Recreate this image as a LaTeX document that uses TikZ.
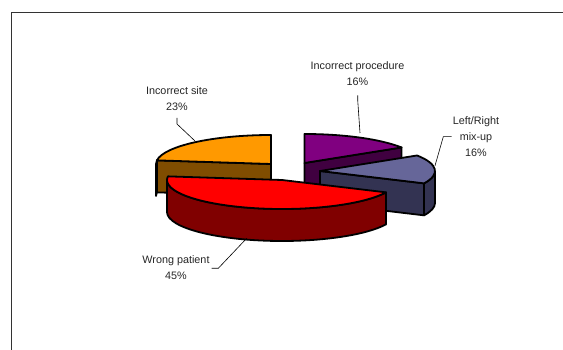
\documentclass[tikz,border=0pt]{standalone}
\usepackage{fontspec}
\setmainfont{Liberation Sans}
\usetikzlibrary{calc}
\begin{document}
\begin{tikzpicture}[x=1pt,y=-1pt,
  slice/.style={draw=black,line width=1.8pt,line join=round},
  ell/.style={x radius=115,y radius=29},
  lbl/.style={align=center,font=\fontsize{10.8}{16}\selectfont,text=black!85,inner sep=0pt},
  leader/.style={draw=black,line width=0.6pt}]
\useasboundingbox (0,0) rectangle (563,350);
\fill[white] (0,0) rectangle (563,350);
\draw[line width=1pt,black!80] (11,350) -- (11,13) -- (563,13);
% Purple: Incorrect procedure (back)
\coordinate (P) at (304.5,163);
\filldraw[slice,fill={rgb,255:red,64;green,0;blue,64}] (P) -- ++(-32.4:115 and 29) -- ++(0,32) -- ($(P)+(0,32)$) -- cycle;
\filldraw[slice,fill={rgb,255:red,128;green,0;blue,128}] (P) -- ++(-90:115 and 29) arc[ell,start angle=-90,end angle=-32.4] -- cycle;
% Orange: Incorrect site
\coordinate (O) at (271,164);
\filldraw[slice,fill={rgb,255:red,128;green,77;blue,0}] ($(O)+(-172.8:115 and 29)$) arc[ell,start angle=-172.8,end angle=-180] -- ++(0,32) arc[ell,start angle=-180,end angle=-172.8] -- cycle;
\filldraw[slice,fill={rgb,255:red,128;green,77;blue,0}] (O) -- ++(-172.8:115 and 29) -- ++(0,32) -- ($(O)+(0,32)$) -- cycle;
\filldraw[slice,fill={rgb,255:red,255;green,153;blue,0}] (O) -- ++(-172.8:115 and 29) arc[ell,start angle=-172.8,end angle=-90] -- cycle;
% Blue: Left/Right mix-up
\coordinate (B) at (320,171);
\filldraw[slice,fill={rgb,255:red,51;green,51;blue,82}] ($(B)+(0:115 and 29)$) arc[ell,start angle=0,end angle=25.2] -- ++(0,32) arc[ell,start angle=25.2,end angle=0] -- cycle;
\filldraw[slice,fill={rgb,255:red,51;green,51;blue,82}] (B) -- ++(25.2:115 and 29) -- ++(0,32) -- ($(B)+(0,32)$) -- cycle;
\filldraw[slice,fill={rgb,255:red,102;green,102;blue,153}] (B) -- ++(-32.4:115 and 29) arc[ell,start angle=-32.4,end angle=25.2] -- cycle;
% Red: Wrong patient (front)
\coordinate (R) at (282,180);
\filldraw[slice,fill={rgb,255:red,128;green,0;blue,0}] ($(R)+(25.2:115 and 29)$) arc[ell,start angle=25.2,end angle=180] -- ++(0,32) arc[ell,start angle=180,end angle=25.2] -- cycle;
\filldraw[slice,fill={rgb,255:red,255;green,0;blue,0}] (R) -- ++(25.2:115 and 29) arc[ell,start angle=25.2,end angle=187.2] -- cycle;
% Labels
\node[lbl] (site) at (177,99) {Incorrect site\\23\%};
\node[lbl] (proc) at (357.5,74) {Incorrect procedure\\16\%};
\node[lbl] (lr) at (476,137) {Left/Right\\mix-up\\16\%};
\node[lbl] (wp) at (176,268) {Wrong patient\\45\%};
% Leaders
\coordinate (s1) at (177,118);
\coordinate (s2) at (177,124);
\coordinate (s3) at (195,141);
\coordinate (p1) at (357.7,95.5);
\coordinate (p2) at (357.7,100);
\coordinate (p3) at (360,133);
\coordinate (l1) at (451.5,136.7);
\coordinate (l2) at (443.3,136.7);
\coordinate (l3) at (435,165.7);
\coordinate (w1) at (211.7,268.3);
\coordinate (w2) at (218.3,268.3);
\coordinate (w3) at (246.7,238.3);
\draw[leader] (s1) -- (s2) -- (s3);
\draw[leader] (p1) -- (p2) -- (p3);
\draw[leader] (l1) -- (l2) -- (l3);
\draw[leader] (w1) -- (w2) -- (w3);
\end{tikzpicture}
\end{document}
